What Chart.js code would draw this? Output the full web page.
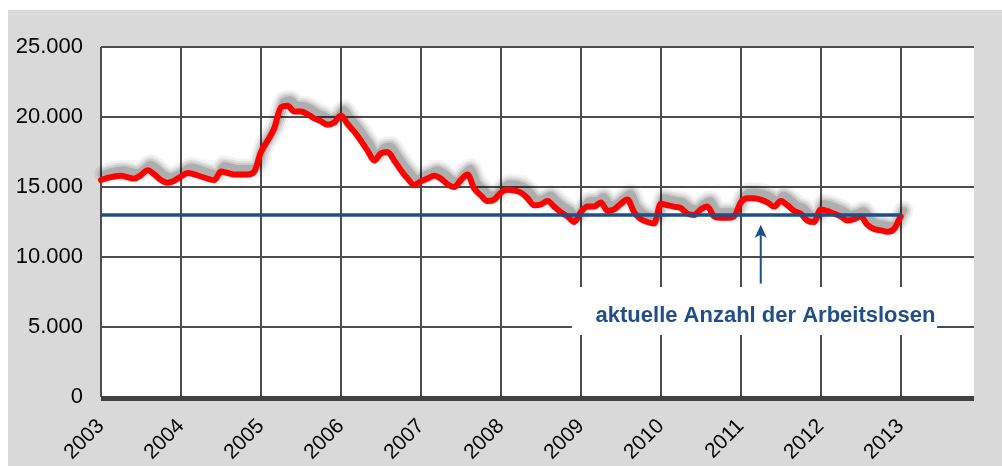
<!DOCTYPE html>
<html><head><meta charset="utf-8">
<script src="https://cdn.jsdelivr.net/npm/chart.js@4.4.1/dist/chart.umd.min.js"></script>
<style>html,body{margin:0;padding:0;background:#fff;overflow:hidden}canvas{display:block}</style>
</head><body>
<canvas id="c" width="1002" height="466"></canvas>
<script>
// ---- data ----
const years = ['2003','2004','2005','2006','2007','2008','2009','2010','2011','2012','2013'];
const monthCodes = ['01','02','03','04','05','06','07','08','09','10','11','12'];
// monthly unemployed count, Jan 2003 .. Jan 2013
const arbeitslose = [
 15500,15650,15750,15800,15700,15600,15850,16200,15900,15500,15300,15450,
 15750,16000,15900,15750,15600,15500,16100,16000,15900,15900,15900,16100,
 17500,18300,19200,20700,20800,20400,20400,20200,19900,19700,19450,19600,
 20100,19500,18950,18300,17600,16900,17400,17500,16900,16200,15600,15150,
 15400,15600,15800,15600,15200,15000,15500,15900,14900,14400,14000,14100,
 14600,14800,14750,14600,14200,13700,13750,14000,13600,13200,12900,12500,
 13200,13600,13600,13900,13300,13400,13800,14100,13200,12700,12500,12400,
 13800,13700,13600,13500,13100,13000,13400,13600,12900,12800,12800,12900,
 13900,14200,14200,14100,13900,13600,14000,13700,13300,13100,12600,12500,
 13400,13300,13100,12900,12600,12700,12900,12300,12000,11900,11800,12000,
 12900
];
const aktuelleAnzahl = 13000;               // reference level (blue line)
const aktuelleVon = '2003-01', aktuelleBis = '2013-01';
const yTickValues = [0,5000,10000,15000,20000,25000];
const yTickLabels = ['0','5.000','10.000','15.000','20.000','25.000'];
const annotationText = 'aktuelle Anzahl der Arbeitslosen';

// ---- build table ----
const categories = [];
years.forEach(y => monthCodes.forEach(m => categories.push(y + '-' + m)));

Chart.defaults.font.family = "'Liberation Sans', Arial, sans-serif";

const bgPlugin = {
  id: 'bg',
  beforeDraw(chart) {
    const c = chart.ctx, a = chart.chartArea;
    c.save();
    c.fillStyle = '#ffffff'; c.fillRect(0, 0, chart.width, chart.height);
    c.fillStyle = '#d9d9d9'; c.fillRect(8, 10, chart.width - 8, chart.height - 10);
    c.fillStyle = '#ffffff'; c.fillRect(a.left, a.top, a.right - a.left, a.bottom - a.top);
    c.restore();
  },
  beforeDatasetsDraw(chart) {
    const c = chart.ctx, a = chart.chartArea, xs = chart.scales.x, ys = chart.scales.y;
    c.save();
    c.fillStyle = '#404040';
    c.fillRect(a.left, a.bottom - 1, a.right - a.left, 5);
    // annotation box
    c.fillStyle = '#ffffff';
    c.fillRect(572, 287, 365, 48);
    c.fillStyle = '#1f4e89';
    c.font = "bold 22px 'Liberation Sans', Arial, sans-serif";
    c.textAlign = 'center'; c.textBaseline = 'alphabetic';
    c.fillText(annotationText, 765.5, 321.5);
    // arrow
    const ax = xs.getPixelForValue(99);
    const yTip = ys.getPixelForValue(12300), yTail = ys.getPixelForValue(8100);
    c.strokeStyle = '#1f4e89'; c.lineWidth = 2;
    c.beginPath(); c.moveTo(ax, yTail); c.lineTo(ax, yTip + 8); c.stroke();
    c.beginPath(); c.moveTo(ax, yTip); c.lineTo(ax - 6, yTip + 13); c.lineTo(ax, yTip + 10); c.lineTo(ax + 6, yTip + 13); c.closePath(); c.fill();
    c.restore();

    // soft shadow of the red line, traced through the library's own line element
    const line = chart.getDatasetMeta(1).dataset;
    c.save();
    c.translate(3, -6);
    c.lineCap = 'round'; c.lineJoin = 'round';
    [[20, 0.05], [15, 0.07], [11, 0.09], [7, 0.14]].forEach(([w, al]) => {
      c.strokeStyle = 'rgba(0,0,0,' + al + ')';
      c.lineWidth = w;
      c.beginPath();
      line.path(c);
      c.stroke();
    });
    c.restore();
  }
};

new Chart(document.getElementById('c'), {
  type: 'line',
  data: {
    labels: categories,
    datasets: [
      { label: 'aktuell', data: [{x: aktuelleVon, y: aktuelleAnzahl}, {x: aktuelleBis, y: aktuelleAnzahl}],
        borderColor: '#1f4e89', borderWidth: 3.5, pointRadius: 0, tension: 0, fill: false, order: 0 },
      { label: 'Arbeitslose', data: arbeitslose, borderColor: '#ff0000', borderWidth: 6, order: 1,
        pointRadius: 0, tension: 0.4, cubicInterpolationMode: 'monotone', fill: false,
        borderCapStyle: 'round', borderJoinStyle: 'round' }
    ]
  },
  options: {
    responsive: false, animation: false,
    layout: { padding: { left: 0, top: 47, right: 28, bottom: 0 } },
    plugins: { legend: { display: false }, tooltip: { enabled: false } },
    scales: {
      x: {
        type: 'category', offset: false,
        grid: { color: ctx => (ctx.index % 12 === 0 && ctx.index <= 120) ? '#4d4d4d' : 'rgba(0,0,0,0)', lineWidth: 2, drawTicks: false },
        border: { display: false },
        ticks: { autoSkip: false, minRotation: 45, maxRotation: 45, color: '#000', padding: 17,
          font: { size: 21 },
          callback: (v, i) => (i % 12 === 0) ? categories[i].slice(0, 4) : '' },
        afterFit: s => { s.height = 69; s.paddingLeft = 0; s.paddingRight = 0; }
      },
      y: {
        min: 0, max: 25000,
        grid: { color: '#4d4d4d', lineWidth: 2, drawTicks: false },
        border: { display: false },
        afterBuildTicks: s => { s.ticks = yTickValues.map(v => ({ value: v })); },
        ticks: { color: '#000', padding: 18, font: { size: 22 },
          callback: v => yTickLabels[yTickValues.indexOf(v)] },
        afterFit: s => { s.width = 101; }
      }
    }
  },
  plugins: [bgPlugin]
});
</script>
</body></html>
